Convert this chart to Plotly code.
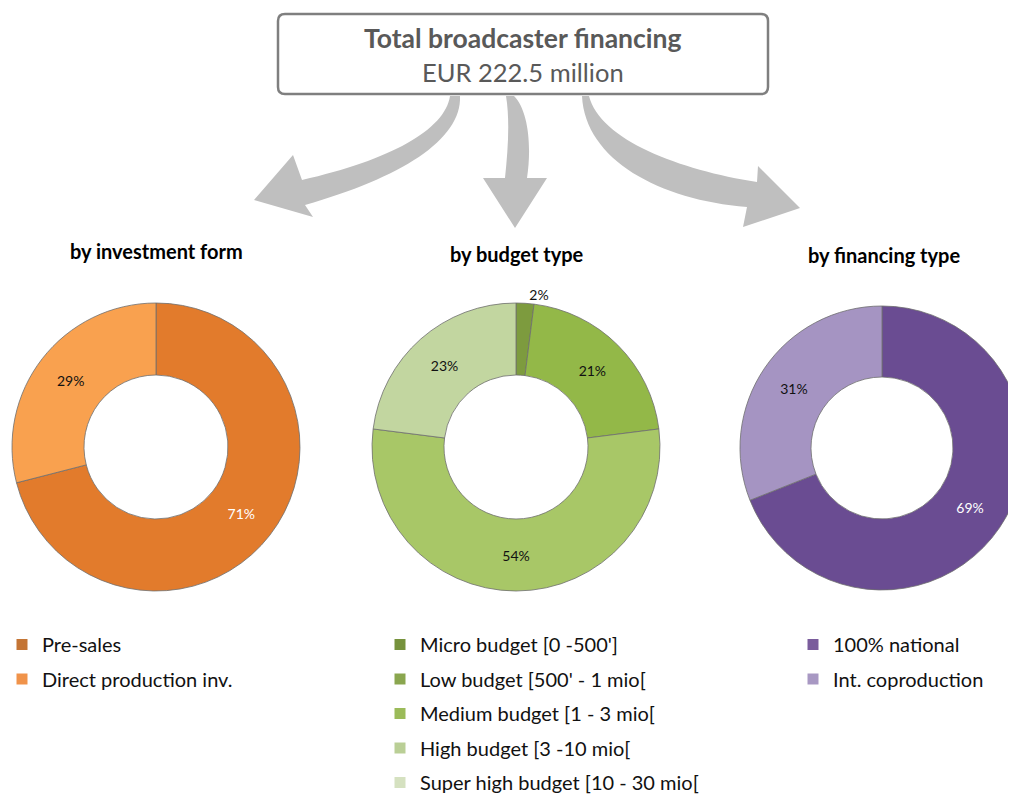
import plotly.graph_objects as go

W, H = 1016, 794
OFF = 8  # page body margin: screen px -> figure px
FONT = "Lato"

# ---------------- data ----------------
invest_labels = ["Pre-sales", "Direct production inv."]
invest_values = [71, 29]

budget_labels = ["Micro budget [0 -500']", "Low budget [500' - 1 mio[",
                 "Medium budget [1 - 3 mio[", "High budget [3 -10 mio[",
                 "Super high budget [10 - 30 mio["]
budget_values = [0, 2, 21, 54, 23]

fin_labels = ["100% national", "Int. coproduction"]
fin_values = [69, 31]

title_main = "Total broadcaster financing"
title_sub = "EUR 222.5 million"
panel_titles = ["by investment form", "by budget type", "by financing type"]

# ---------------- styles ----------------
invest_slice_colors = ["#E27B2C", "#F9A14F"]
invest_legend_colors = ["#C47535", "#F0934A"]
invest_text_colors = ["white", "#111111"]

budget_slice_colors = ["#6E8B35", "#7D9B3E", "#93B848", "#A8C767", "#C2D6A0"]
budget_legend_colors = ["#76923C", "#8AA64F", "#9BBB59", "#BACF96", "#D5E1C0"]
budget_text_colors = ["#111111"] * 5

fin_slice_colors = ["#6A4C92", "#A594C2"]
fin_legend_colors = ["#7A5C9C", "#A898C3"]
fin_text_colors = ["white", "#111111"]


def S(v):
    """screen pixel -> figure pixel"""
    return v - OFF


def dom_x(a, b):
    return [max(0.0, S(a) / W), min(1.0, S(b) / W)]


def dom_y(top, bottom):
    return [1 - S(bottom) / H, 1 - S(top) / H]


fig = go.Figure()


def add_donut(labels, values, colors, tcolors, dx, dy, positions=None):
    templ = ["" if v == 0 else "%{percent:.0%}" for v in values]
    fig.add_trace(go.Pie(
        labels=labels, values=values, sort=False, direction="clockwise",
        rotation=0, hole=0.5, domain=dict(x=dx, y=dy),
        marker=dict(colors=colors, line=dict(color="#6F6F6F", width=0.8)),
        texttemplate=templ, textposition=positions or "inside",
        insidetextorientation="horizontal",
        textfont=dict(family=FONT, size=14, color=tcolors),
        showlegend=False, hoverinfo="label+percent",
    ))


add_donut(invest_labels, invest_values, invest_slice_colors, invest_text_colors,
          dom_x(12, 300), dom_y(303, 591))
add_donut(budget_labels, budget_values, budget_slice_colors, budget_text_colors,
          dom_x(372, 660), dom_y(303, 591),
          positions=["inside", "outside", "inside", "inside", "inside"])
add_donut(fin_labels, fin_values, fin_slice_colors, fin_text_colors,
          dom_x(740, 1024), dom_y(306, 590))


def add_legend(labels, colors, legend_id):
    for i, (lab, col) in enumerate(zip(labels, colors)):
        fig.add_trace(go.Scatter(
            x=[None], y=[None], mode="markers", name=lab,
            marker=dict(symbol="square", size=11, color=col),
            legend=legend_id, legendgroup=f"{legend_id}_{i}", showlegend=True,
        ))


add_legend(invest_labels, invest_legend_colors, "legend")
add_legend(budget_labels, budget_legend_colors, "legend2")
add_legend(fin_labels, fin_legend_colors, "legend3")

leg_common = dict(font=dict(family=FONT, size=20, color="#111111"),
                  bgcolor="rgba(0,0,0,0)", traceorder="grouped",
                  tracegroupgap=5.5, xanchor="left", yanchor="top",
                  itemclick=False, itemdoubleclick=False)

# ---------------- decoration shapes (screen px, shifted) ----------------
def path(cmds):
    out = []
    for c in cmds:
        if isinstance(c, str):
            out.append(c)
        else:
            out.append(f"{S(c[0])},{S(c[1])}")
    return " ".join(out)


arrow_col = "#BFBFBF"
shapes = []
shapes.append(dict(type="path", xref="x", yref="y", layer="below",
                   path=path(["M", (460, 96), "C", (462, 140), (400, 178), (305, 205),
                              "L", (313, 217), "L", (254, 200), "L", (293, 155),
                              "L", (302, 180), "C", (390, 160), (445, 130), (450, 96), "Z"]),
                   fillcolor=arrow_col, line=dict(width=0)))
shapes.append(dict(type="path", xref="x", yref="y", layer="below",
                   path=path(["M", (506, 96), "L", (514, 96),
                              "C", (528, 110), (532, 145), (527, 178),
                              "L", (547, 178), "L", (515, 228), "L", (483, 178),
                              "L", (505, 178), "C", (508, 150), (510, 120), (506, 96), "Z"]),
                   fillcolor=arrow_col, line=dict(width=0)))
shapes.append(dict(type="path", xref="x", yref="y", layer="below",
                   path=path(["M", (582, 96), "L", (589, 96),
                              "C", (600, 140), (680, 170), (757, 182),
                              "L", (758, 166), "L", (800, 208), "L", (743, 227),
                              "L", (747, 207), "C", (660, 200), (585, 160), (582, 96), "Z"]),
                   fillcolor=arrow_col, line=dict(width=0)))
x0, x1, y0, y1, r = 278, 768, 14, 94, 7
box = path(["M", (x0 + r, y0), "L", (x1 - r, y0), "Q", (x1, y0), (x1, y0 + r),
            "L", (x1, y1 - r), "Q", (x1, y1), (x1 - r, y1), "L", (x0 + r, y1),
            "Q", (x0, y1), (x0, y1 - r), "L", (x0, y0 + r), "Q", (x0, y0), (x0 + r, y0), "Z"])
shapes.append(dict(type="path", xref="x", yref="y", path=box,
                   fillcolor="white", line=dict(color="#7F7F7F", width=2.5)))

annotations = [
    dict(x=S(523), y=S(38), xref="x", yref="y", text=f"<b>{title_main}</b>",
         showarrow=False, font=dict(family=FONT, size=26.5, color="#595959")),
    dict(x=S(523), y=S(72), xref="x", yref="y", text=title_sub,
         showarrow=False, font=dict(family=FONT, size=25.5, color="#595959")),
]
for (cx, cy), t in zip([(156, 251), (517, 254), (884, 255)], panel_titles):
    annotations.append(dict(x=S(cx), y=S(cy), xref="x", yref="y", text=f"<b>{t}</b>",
                            showarrow=False,
                            font=dict(family=FONT, size=20, color="#000000")))

LEG_TOP = 625  # screen px
fig.update_layout(
    width=W, height=H, margin=dict(l=0, r=0, t=0, b=0, autoexpand=False),
    paper_bgcolor="white", plot_bgcolor="white",
    xaxis=dict(range=[0, W], visible=False, fixedrange=True),
    yaxis=dict(range=[H, 0], visible=False, fixedrange=True),
    shapes=shapes, annotations=annotations,
    legend=dict(x=S(2) / W, y=1 - S(LEG_TOP) / H, **leg_common),
    legend2=dict(x=S(380) / W, y=1 - S(LEG_TOP) / H, **leg_common),
    legend3=dict(x=S(793) / W, y=1 - S(LEG_TOP) / H, **leg_common),
)

fig.write_html("out.html")
